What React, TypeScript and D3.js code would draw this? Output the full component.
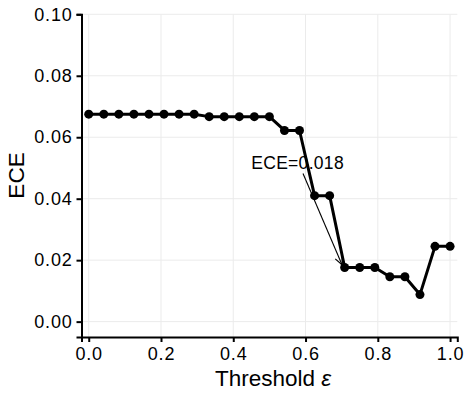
import {useEffect, useRef} from "react";
import * as d3 from "d3";

const thresholds = [0, 0.0417, 0.0833, 0.125, 0.1667, 0.2083, 0.25, 0.2917, 0.3333, 0.375, 0.4167, 0.4583,
    0.5, 0.5417, 0.5833, 0.625, 0.6667, 0.7083, 0.75, 0.7917, 0.8333, 0.875, 0.9167, 0.9583, 1.0];
const ece = [0.0675, 0.0675, 0.0675, 0.0675, 0.0675, 0.0675, 0.0675, 0.0675, 0.0667, 0.0667, 0.0667, 0.0667,
    0.0667, 0.0622, 0.0622, 0.041, 0.041, 0.0176, 0.0176, 0.0176, 0.0146, 0.0146, 0.0088, 0.0245, 0.0245];
const xTicks = [0, 0.2, 0.4, 0.6, 0.8, 1.0];
const yTicks = [0, 0.02, 0.04, 0.06, 0.08, 0.1];
const noteText = "ECE=0.018";
const notePos = [0.578, 0.0517];
const arrowFrom = [0.593, 0.0482];
const arrowTo = [0.701, 0.0185];

const W = 471, H = 399;
const font = "'Liberation Sans', Arial, Helvetica, sans-serif";

const App = () => {
    const ref = useRef<SVGSVGElement>(null);

    useEffect(() => {
        const svg = d3.select(ref.current);
        svg.selectAll("*").remove();

        const x = d3.scaleLinear().domain([-0.02, 1.02]).range([81.5, 457.3]);
        const y = d3.scaleLinear().domain([-0.005, 0.1]).range([337, 14.3]);

        // grid
        const grid = svg.append("g").attr("stroke", "#ebebeb").attr("stroke-width", 1);
        grid.selectAll(".gx").data(xTicks).enter().append("line")
            .attr("x1", d => x(d)).attr("x2", d => x(d)).attr("y1", y.range()[0]).attr("y2", y.range()[1]);
        grid.selectAll(".gy").data(yTicks).enter().append("line")
            .attr("y1", d => y(d)).attr("y2", d => y(d)).attr("x1", x.range()[0]).attr("x2", x.range()[1]);

        // axes
        const gx = svg.append("g").attr("transform", `translate(0,${y.range()[0]})`)
            .call(d3.axisBottom(x).tickValues(xTicks).tickFormat(d3.format(".1f")).tickSizeOuter(0).tickSize(5).tickPadding(5));
        const gy = svg.append("g").attr("transform", `translate(${x.range()[0]},0)`)
            .call(d3.axisLeft(y).tickValues(yTicks).tickFormat(d3.format(".2f")).tickSizeOuter(0).tickSize(5).tickPadding(4));
        [gx, gy].forEach(g => {
            g.select(".domain").attr("stroke", "#000").attr("stroke-width", 2);
            g.selectAll(".tick line").attr("stroke", "#000").attr("stroke-width", 2);
            g.selectAll(".tick text").attr("fill", "#000").style("font-family", font)
                .style("font-size", "18px").style("letter-spacing", "0.8px");
        });

        // line + points
        const pts = thresholds.map((t, i) => [t, ece[i]]);
        svg.append("path").datum(pts)
            .attr("d", d3.line().x(d => x(d[0])).y(d => y(d[1])))
            .attr("fill", "none").attr("stroke", "#000").attr("stroke-width", 3).attr("stroke-linejoin", "round");
        svg.selectAll(".pt").data(pts).enter().append("circle")
            .attr("cx", d => x(d[0])).attr("cy", d => y(d[1])).attr("r", 4.5).attr("fill", "#000");

        // annotation
        const x1 = x(arrowFrom[0]), y1 = y(arrowFrom[1]), x2 = x(arrowTo[0]), y2 = y(arrowTo[1]);
        svg.append("line").attr("x1", x1).attr("y1", y1).attr("x2", x2).attr("y2", y2)
            .attr("stroke", "#000").attr("stroke-width", 1.1);
        const ang = Math.atan2(y2 - y1, x2 - x1), len = 9, spread = Math.PI / 7;
        const head = [ang - spread, ang + spread].map(a => [x2 - len * Math.cos(a), y2 - len * Math.sin(a)]);
        svg.append("path")
            .attr("d", `M${head[0][0]},${head[0][1]}L${x2},${y2}L${head[1][0]},${head[1][1]}`)
            .attr("fill", "none").attr("stroke", "#000").attr("stroke-width", 1.1);
        svg.append("text").attr("x", x(notePos[0])).attr("y", y(notePos[1])).attr("dy", "0.35em")
            .attr("text-anchor", "middle").style("font-family", font).style("font-size", "17.5px")
            .style("letter-spacing", "0.3px").text(noteText);

        // titles
        const xt = svg.append("text").attr("x", 273).attr("y", 386).attr("text-anchor", "middle")
            .style("font-family", font).style("font-size", "22.5px");
        xt.append("tspan").text("Threshold ");
        xt.append("tspan").style("font-style", "italic").text("ε");
        svg.append("text").attr("transform", `translate(24,175.5) rotate(-90)`)
            .attr("text-anchor", "middle").style("font-family", font).style("font-size", "22.5px").text("ECE");
    }, []);

    return <svg ref={ref} width={W} height={H} style={{position: "absolute", left: 0, top: 0, background: "#fff"}}/>;
};

export default App;
